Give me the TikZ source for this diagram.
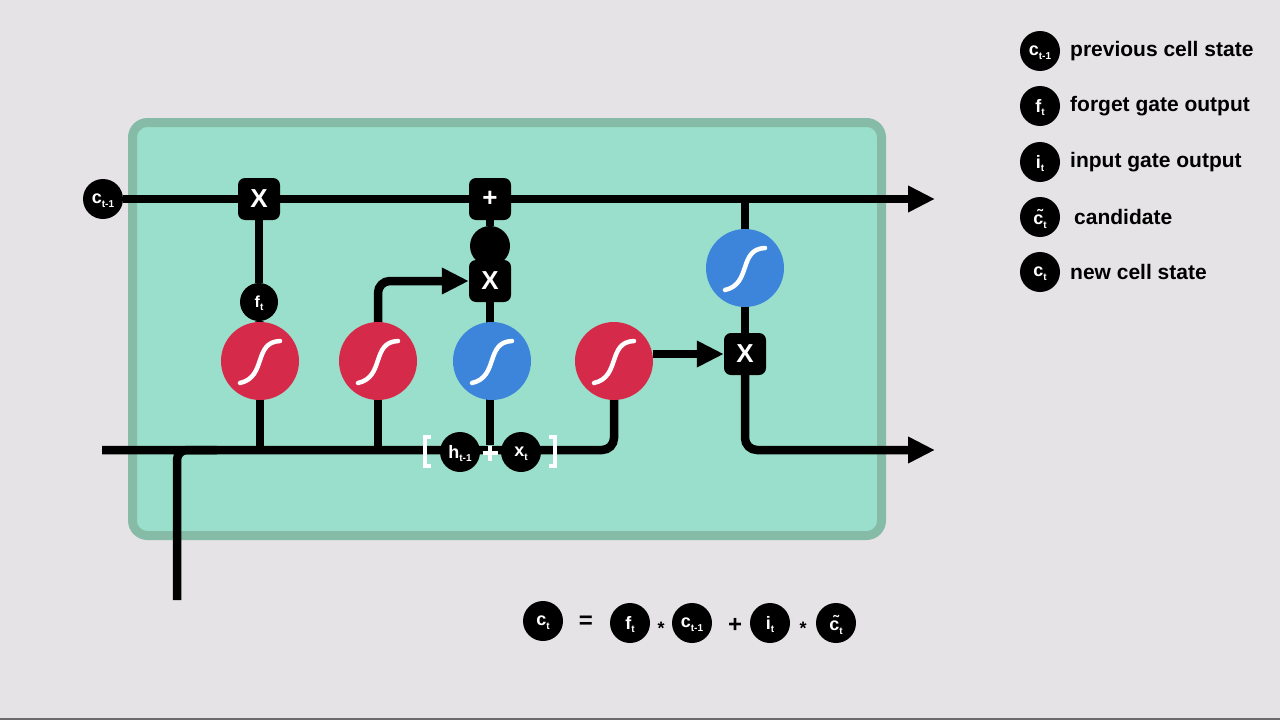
\documentclass[tikz,border=0pt]{standalone}
\usepackage{fontspec}
\setmainfont{Liberation Sans}
\usetikzlibrary{arrows.meta}
\definecolor{bgc}{HTML}{E5E3E6}
\definecolor{boxfill}{HTML}{9ADFCB}
\definecolor{boxline}{HTML}{86BCA7}
\definecolor{sred}{HTML}{D62A4A}
\definecolor{sblue}{HTML}{3D85DB}
\definecolor{edgec}{HTML}{6A6A6A}
\pgfdeclarelayer{bgl}
\pgfdeclarelayer{wires}
\pgfsetlayers{bgl,wires,main}
\newcommand\clab[2]{#1\raisebox{-0.35ex}[0pt][0pt]{\fontsize{10}{10}\selectfont #2}}
\begin{document}
\begin{tikzpicture}[x=1pt,y=-1pt,
  wire/.style={line width=8.5pt,black},
  arr/.style={wire,-{Triangle[length=27pt,width=25pt]}},
  opbox/.style={fill=black,rounded corners=7pt,minimum size=42pt,inner sep=0pt,text=white,font=\bfseries\fontsize{26}{26}\selectfont},
  dot/.style={circle,fill=black,minimum size=40pt,inner sep=0pt,text=white,font=\bfseries\fontsize{18}{18}\selectfont},
  sg/.style={circle,minimum size=78pt,inner sep=0pt},
  sgred/.style={sg,fill=sred},
  sgblue/.style={sg,fill=sblue},
  sigc/.style={white,line width=4.5pt,line cap=round},
  legtext/.style={anchor=west,inner sep=0pt,font=\bfseries\fontsize{21}{21}\selectfont},
  eqsym/.style={inner sep=0pt,font=\bfseries\fontsize{24}{24}\selectfont},
  brk/.style={white,line width=3.5pt}
]
\useasboundingbox (0,0) rectangle (1280,720);
\begin{pgfonlayer}{bgl}
  \fill[bgc] (0,0) rectangle (1280,720);
  \fill[edgec] (0,718) rectangle (1280,720);
  \draw[line width=9pt,boxline,fill=boxfill,rounded corners=15pt] (132.5,122.5) rectangle (881.5,535.5);
\end{pgfonlayer}

% nodes
\node[dot] (ct1) at (103,199) {\clab{c}{t-1}};
\node[opbox] (X1) at (259,199) {X};
\node[opbox] (P1) at (490,199) {+};
\coordinate (topend) at (935,199);
\node[dot,minimum size=38pt,font=\bfseries\fontsize{16}{16}\selectfont] (ft) at (259,302) {\clab{f}{t}};
\node[sgred] (s1) at (260,361) {};
\node[sgred] (s2) at (378,361) {};
\node[sgblue] (s3) at (492,361) {};
\node[sgred] (s4) at (614,361) {};
\node[dot] (it) at (490,246) {};
\node[opbox] (X2) at (490,281) {X};
\node[sgblue] (s5) at (745,268) {};
\node[opbox] (X3) at (745,354) {X};
\coordinate (outend) at (935,450);
\node[dot] (ht) at (460,452) {\clab{h}{t-1}};
\node[dot] (xt) at (521,452) {\clab{x}{t}};
\coordinate (inL) at (102,450);
\coordinate (inB) at (177,600);

% sigmoid curves
\foreach \s in {s1,s2,s3,s4,s5}
  \draw[sigc,shift={(\s.center)}] (-20,22) .. controls (7,16) and (-7,-19) .. (20,-20);

\begin{pgfonlayer}{wires}
  \draw[wire] (ct1) -- (X1);
  \draw[wire] (X1) -- (P1);
  \draw[arr] (P1) -- (topend);
  \draw[wire] (X1) -- (ft);
  \draw[wire] (ft) -- (s1);
  \draw[wire] (P1) -- (it);
  \draw[wire] (it) -- (X2);
  \draw[wire] (X2) -- (X2 |- s3);
  \draw[arr,rounded corners=12pt] (s2) |- (X2);
  \draw[arr] (s4.east |- X3.west) -- (X3.west);
  \draw[wire] (X3 |- P1) -- (s5);
  \draw[wire] (s5) -- (X3);
  \draw[arr,rounded corners=12pt] (X3) |- (outend);
  \draw[wire,rounded corners=12pt] (inL) -- (s4 |- inL) -- (s4);
  \draw[wire] (s1) -- (s1 |- inL);
  \draw[wire] (s2) -- (s2 |- inL);
  \draw[wire] (X2 |- s3) -- (490,445);
  \draw[wire,rounded corners=10pt] (inB) -- (inB |- inL) -- ++(40,0);
\end{pgfonlayer}

% white plus and brackets
\draw[brk] (482.5,453) -- (497.5,453) (490,445.5) -- (490,460.5);
\draw[brk] (431,437) -- (425,437) -- (425,466) -- (431,466);
\draw[brk] (549,437) -- (555,437) -- (555,466) -- (549,466);

% legend
\node[dot] (l1) at (1040,51) {\clab{c}{t-1}};
\node[legtext] (lt1) at (1070,51) {previous cell state};
\node[dot] (l2) at (1040,106) {\clab{f}{t}};
\node[legtext] (lt2) at (1070,106) {forget gate output};
\node[dot] (l3) at (1040,162) {\clab{i}{t}};
\node[legtext] (lt3) at (1070,162) {input gate output};
\node[dot] (l4) at (1040,217) {\clab{\~{c}}{t}};
\node[legtext] (lt4) at (1074,217) {candidate};
\node[dot] (l5) at (1040,272) {\clab{c}{t}};
\node[legtext] (lt5) at (1070,272) {new cell state};

% equation
\node[dot] (e1) at (543,621) {\clab{c}{t}};
\node[eqsym] (eq) at (586,622) {=};
\node[dot] (e2) at (630,623) {\clab{f}{t}};
\node[eqsym,font=\bfseries\fontsize{18}{18}\selectfont] (m1) at (661,628) {*};
\node[dot] (e3) at (692,623) {\clab{c}{t-1}};
\node[eqsym] (pl) at (735,625) {+};
\node[dot] (e4) at (770,623) {\clab{i}{t}};
\node[eqsym,font=\bfseries\fontsize{18}{18}\selectfont] (m2) at (803,628) {*};
\node[dot] (e5) at (836,623) {\clab{\~{c}}{t}};
\end{tikzpicture}
\end{document}
